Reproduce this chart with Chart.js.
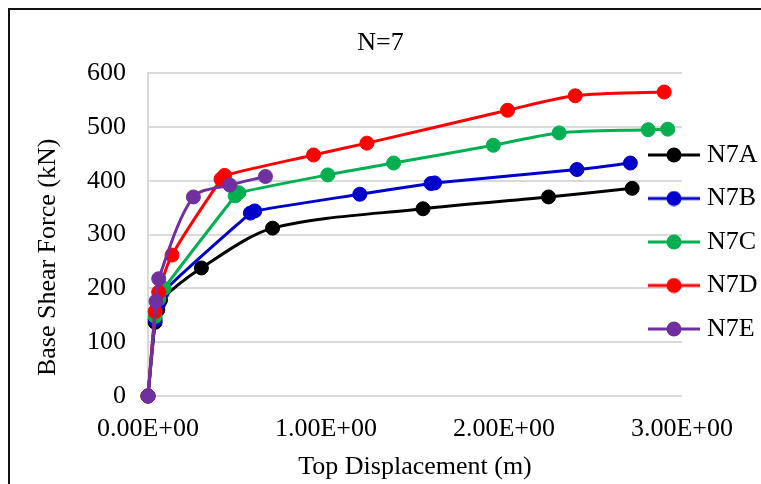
<!DOCTYPE html>
<html>
<head>
<meta charset="utf-8">
<script src="https://cdn.jsdelivr.net/npm/chart.js@4/dist/chart.umd.min.js"></script>
<style>
  html, body { margin: 0; padding: 0; background: #fff; }
  #wrap { width: 761px; height: 484px; }
</style>
</head>
<body>
<div id="wrap"><canvas id="pushover" width="761" height="484"></canvas></div>
<script>
// pushover curves (displacement in m, base shear in kN)
const seriesNames = ['N7A', 'N7B', 'N7C', 'N7D', 'N7E'];
const seriesColors = ['#000000', '#0000CC', '#00B050', '#FF0000', '#7030A0'];

const n7aDisp  = [0, 0.04, 0.055, 0.07, 0.30, 0.70, 1.545, 2.25, 2.72];
const n7aForce = [0, 137, 160, 178, 238, 312, 348, 370, 386];

const n7bDisp  = [0, 0.04, 0.06, 0.08, 0.575, 0.60, 1.19, 1.59, 1.61, 2.41, 2.71];
const n7bForce = [0, 142, 172, 192, 340, 344, 375, 395, 396, 421, 433];

const n7cDisp  = [0, 0.04, 0.06, 0.09, 0.49, 0.51, 1.01, 1.38, 1.94, 2.31, 2.81, 2.92];
const n7cForce = [0, 148, 180, 200, 372, 378, 411, 433, 466, 489, 495, 496];

const n7dDisp  = [0, 0.04, 0.06, 0.135, 0.41, 0.43, 0.93, 1.23, 2.02, 2.40, 2.90];
const n7dForce = [0, 157, 193, 262, 403, 410, 448, 470, 531, 558, 565];

const n7eDisp  = [0, 0.045, 0.06, 0.255, 0.46, 0.66];
const n7eForce = [0, 176, 218, 370, 392, 408];

const xTickLabels = ['0.00E+00', '1.00E+00', '2.00E+00', '3.00E+00'];

const allDisp = [n7aDisp, n7bDisp, n7cDisp, n7dDisp, n7eDisp];
const allForce = [n7aForce, n7bForce, n7cForce, n7dForce, n7eForce];

Chart.defaults.font.family = "'Liberation Serif', 'Times New Roman', serif";
Chart.defaults.color = '#000000';

const FONT = 26;
const LEGEND_PAD = 17.5;

// little line+dot marker for each legend entry
function makeMarker(color) {
    const c = document.createElement('canvas');
    c.width = 52;
    c.height = 16;
    const g = c.getContext('2d');
    g.strokeStyle = color;
    g.lineWidth = 3;
    g.beginPath();
    g.moveTo(0, 8);
    g.lineTo(52, 8);
    g.stroke();
    g.fillStyle = color;
    g.beginPath();
    g.arc(26, 8, 7.5, 0, Math.PI * 2);
    g.fill();
    return c;
}
const markers = seriesColors.map(makeMarker);

const datasets = seriesNames.map((name, i) => ({
    label: name,
    data: allDisp[i].map((x, j) => ({ x: x, y: allForce[i][j] })),
    borderColor: seriesColors[i],
    backgroundColor: seriesColors[i],
    borderWidth: 3,
    pointRadius: 7,
    pointBorderWidth: 1,
    pointBorderColor: seriesColors[i],
    tension: 0.3,
    clip: false,
    order: seriesNames.length - i // later series painted on top, like Excel
}));

// chart area outline (only left/top edges show in the crop) + white background
const frame = {
    id: 'frame',
    beforeDraw(chart) {
        const c = chart.ctx;
        c.save();
        c.fillStyle = '#ffffff';
        c.fillRect(0, 0, chart.width, chart.height);
        c.restore();
    },
    afterDraw(chart) {
        const c = chart.ctx;
        c.save();
        c.strokeStyle = '#111111';
        c.lineWidth = 2;
        c.beginPath();
        c.moveTo(9, chart.height + 5);
        c.lineTo(9, 9);
        c.lineTo(chart.width + 5, 9);
        c.stroke();
        c.restore();
    }
};

// Excel puts the legend partly over the plot; move the box after layout
const legendShift = {
    id: 'legendShift',
    afterLayout(chart) {
        const lg = chart.legend;
        if (!lg) return;
        lg.left = 654 - LEGEND_PAD;
        lg.right = chart.width;
        lg.top = 155 - FONT / 2 - LEGEND_PAD;
        lg.bottom = chart.height;
    }
};

new Chart(document.getElementById('pushover'), {
    type: 'line',
    data: { datasets: datasets },
    plugins: [frame, legendShift],
    options: {
        responsive: false,
        animation: false,
        layout: { padding: 0 },
        plugins: {
            title: {
                display: true,
                text: 'N=7',
                font: { size: FONT, weight: 'normal' },
                padding: { top: 28, bottom: 14 }
            },
            legend: {
                position: 'right',
                align: 'start',
                maxWidth: 79,
                labels: {
                    usePointStyle: true,
                    pointStyleWidth: 40,
                    padding: LEGEND_PAD,
                    font: { size: FONT },
                    sort: (a, b) => a.datasetIndex - b.datasetIndex,
                    generateLabels: (chart) => {
                        const items = Chart.defaults.plugins.legend.labels.generateLabels(chart);
                        return items.map(it => Object.assign(it, { pointStyle: markers[it.datasetIndex] }));
                    }
                }
            },
            tooltip: { enabled: false }
        },
        scales: {
            x: {
                type: 'linear',
                min: 0,
                max: 3,
                ticks: {
                    stepSize: 1,
                    padding: 18,
                    font: { size: FONT },
                    callback: (v, i) => xTickLabels[i]
                },
                grid: { display: false, drawTicks: false },
                border: { display: false },
                title: {
                    display: true,
                    text: 'Top Displacement (m)',
                    font: { size: FONT },
                    padding: { top: 0, bottom: 1 }
                },
                afterFit: (s) => { s.height = 88; }
            },
            y: {
                min: 0,
                max: 600,
                ticks: {
                    stepSize: 100,
                    padding: 22,
                    font: { size: FONT }
                },
                grid: { color: '#d9d9d9', lineWidth: 2, drawTicks: false },
                border: { display: true, color: '#d9d9d9', width: 2 },
                title: {
                    display: true,
                    // trailing spaces nudge the rotated title down, as in the original
                    text: 'Base Shear Force (kN)       ',
                    font: { size: FONT },
                    padding: { top: 33, bottom: 0 }
                },
                afterFit: (s) => { s.width = 148; }
            }
        }
    }
});
</script>
</body>
</html>
